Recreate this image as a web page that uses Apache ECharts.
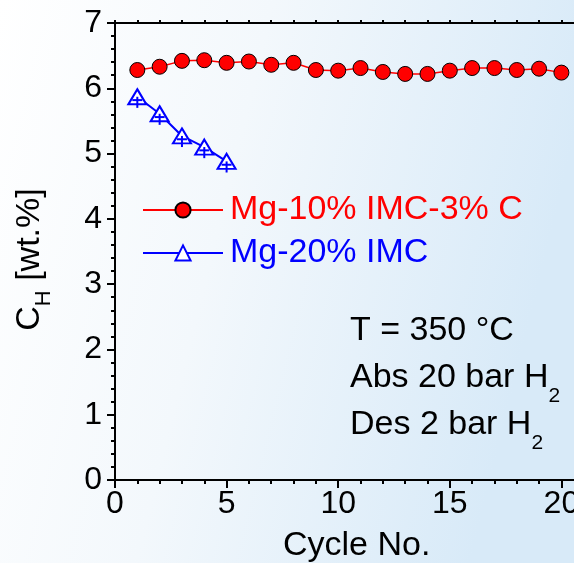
<!DOCTYPE html>
<html>
<head>
<meta charset="utf-8">
<script src="https://cdn.jsdelivr.net/npm/echarts@6/dist/echarts.min.js"></script>
<style>
  html, body { margin: 0; padding: 0; }
  #chart { width: 574px; height: 563px; }
</style>
</head>
<body>
<div id="chart"></div>
<script>
// Hydrogen capacity over absorption/desorption cycles
const cycles = [1, 2, 3, 4, 5, 6, 7, 8, 9, 10, 11, 12, 13, 14, 15, 16, 17, 18, 19, 20];
const capC = [6.28, 6.33, 6.42, 6.43, 6.39, 6.41, 6.36, 6.39, 6.28, 6.27,
              6.31, 6.25, 6.22, 6.22, 6.27, 6.31, 6.31, 6.28, 6.30, 6.24];
const cyclesImc = [1, 2, 3, 4, 5];
const capImc = [5.87, 5.61, 5.27, 5.10, 4.88];
const errImc = [0.17, 0.17, 0.17, 0.17, 0.17];
const xTicks = [0, 5, 10, 15, 20];
const yTicks = [0, 1, 2, 3, 4, 5, 6, 7];

const nameC = 'Mg-10% IMC-3% C';
const nameImc = 'Mg-20% IMC';

const FONT = '"Liberation Sans", Arial, Helvetica, sans-serif';
const RED = '#ff0000';
const BLUE = '#0000ff';

const chart = echarts.init(document.getElementById('chart'), null, { renderer: 'canvas' });

const axisBase = {
  axisLine: { show: true, onZero: false, lineStyle: { color: '#000', width: 2 } },
  splitLine: { show: false },
  axisTick: { show: true, length: 8, lineStyle: { color: '#000', width: 2 } },
  minorTick: { show: true, length: 4, lineStyle: { color: '#000', width: 2 } },
  minorSplitLine: { show: false }
};

const option = {
  animation: false,
  backgroundColor: {
    type: 'linear', x: 0, y: 0, x2: 1, y2: 0.25,
    colorStops: [
      { offset: 0, color: '#ffffff' },
      { offset: 0.45, color: '#f3f8fc' },
      { offset: 1, color: '#d8eaf8' }
    ]
  },
  // the plot area runs past the right edge of the canvas
  grid: {
    left: 115, top: 23, width: 558, height: 457,
    containLabel: false, outerBoundsMode: 'none'
  },
  legend: {
    orient: 'vertical',
    left: 137,
    top: 186,
    itemWidth: 80,
    itemHeight: 19,
    itemGap: 5,
    selectedMode: false,
    textStyle: { fontFamily: FONT, fontSize: 34, lineHeight: 38, padding: [0, 0, 0, 2] },
    data: [
      { name: nameC, textStyle: { color: RED } },
      { name: nameImc, textStyle: { color: BLUE } }
    ]
  },
  xAxis: [
    Object.assign({}, axisBase, {
      type: 'value', position: 'bottom', min: 0, max: 25, interval: 5,
      minorTick: Object.assign({}, axisBase.minorTick, { splitNumber: 5 }),
      axisLabel: {
        color: '#000', fontFamily: FONT, fontSize: 32, margin: 8,
        formatter: v => (xTicks.indexOf(v) >= 0 ? String(v) : '')
      }
    }),
    Object.assign({}, axisBase, {
      type: 'value', position: 'top', min: 0, max: 25, interval: 5,
      axisTick: { show: true, length: 3, lineStyle: { color: '#000', width: 2 } },
      minorTick: { show: true, length: 3, splitNumber: 5, lineStyle: { color: '#000', width: 2 } },
      axisLabel: { show: false }
    })
  ],
  yAxis: Object.assign({}, axisBase, {
    type: 'value', min: 0, max: 7, interval: 1,
    minorTick: Object.assign({}, axisBase.minorTick, { splitNumber: 5 }),
    axisLabel: {
      color: '#000', fontFamily: FONT, fontSize: 32, margin: 13,
      formatter: v => (yTicks.indexOf(v) >= 0 ? String(v) : '')
    },
    name: '{m|C}{s|H}{m| [wt.%]}',
    nameLocation: 'middle',
    nameRotate: 90,
    nameGap: 60,
    nameTextStyle: {
      color: '#000',
      padding: [0, 16, 0, 0],
      rich: {
        m: { fontFamily: FONT, fontSize: 34, color: '#000', lineHeight: 50, verticalAlign: 'middle' },
        s: { fontFamily: FONT, fontSize: 22, color: '#000', lineHeight: 50, verticalAlign: 'bottom' }
      }
    }
  }),
  graphic: [
    {
      type: 'text', left: 283, top: 529,
      style: { text: 'Cycle No.', font: '34px ' + FONT, fill: '#000' }
    },
    {
      type: 'text', left: 350, top: 314,
      style: { text: 'T = 350 °C', font: '34px ' + FONT, fill: '#000' }
    },
    {
      type: 'text', left: 350, top: 361,
      style: {
        text: '{m|Abs 20 bar H}{s|2}',
        rich: {
          m: { fontFamily: FONT, fontSize: 34, fill: '#000', lineHeight: 58, verticalAlign: 'middle' },
          s: { fontFamily: FONT, fontSize: 21, fill: '#000', lineHeight: 58, verticalAlign: 'bottom' }
        }
      }
    },
    {
      type: 'text', left: 350, top: 408,
      style: {
        text: '{m|Des 2 bar H}{s|2}',
        rich: {
          m: { fontFamily: FONT, fontSize: 34, fill: '#000', lineHeight: 58, verticalAlign: 'middle' },
          s: { fontFamily: FONT, fontSize: 21, fill: '#000', lineHeight: 58, verticalAlign: 'bottom' }
        }
      }
    }
  ],
  series: [
    {
      name: nameC,
      type: 'line',
      data: cycles.map((c, i) => [c, capC[i]]),
      symbol: 'circle',
      symbolSize: 15,
      lineStyle: { color: RED, width: 1.5 },
      itemStyle: { color: RED, borderColor: '#000', borderWidth: 1 },
      z: 3
    },
    {
      name: nameImc,
      type: 'line',
      data: cyclesImc.map((c, i) => [c, capImc[i]]),
      symbol: 'triangle',
      symbolSize: [18, 15],
      lineStyle: { color: BLUE, width: 2 },
      itemStyle: { color: '#ffffff', borderColor: BLUE, borderWidth: 2 },
      z: 3
    },
    {
      // lower error bars for the 20% IMC sample
      name: 'errImc',
      type: 'custom',
      data: cyclesImc.map((c, i) => [c, capImc[i], errImc[i]]),
      renderItem: (params, api) => {
        const x = api.value(0), y = api.value(1), e = api.value(2);
        const top = api.coord([x, y]);
        const bot = api.coord([x, y - e]);
        const cap = api.coord([x, y - e * 0.3]);
        return {
          type: 'group',
          children: [
            { type: 'line', shape: { x1: top[0], y1: top[1], x2: bot[0], y2: bot[1] },
              style: { stroke: BLUE, lineWidth: 2 } },
            { type: 'line', shape: { x1: cap[0] - 5, y1: cap[1], x2: cap[0] + 5, y2: cap[1] },
              style: { stroke: BLUE, lineWidth: 2 } }
          ]
        };
      },
      z: 4,
      silent: true
    }
  ]
};

chart.setOption(option);
</script>
</body>
</html>
